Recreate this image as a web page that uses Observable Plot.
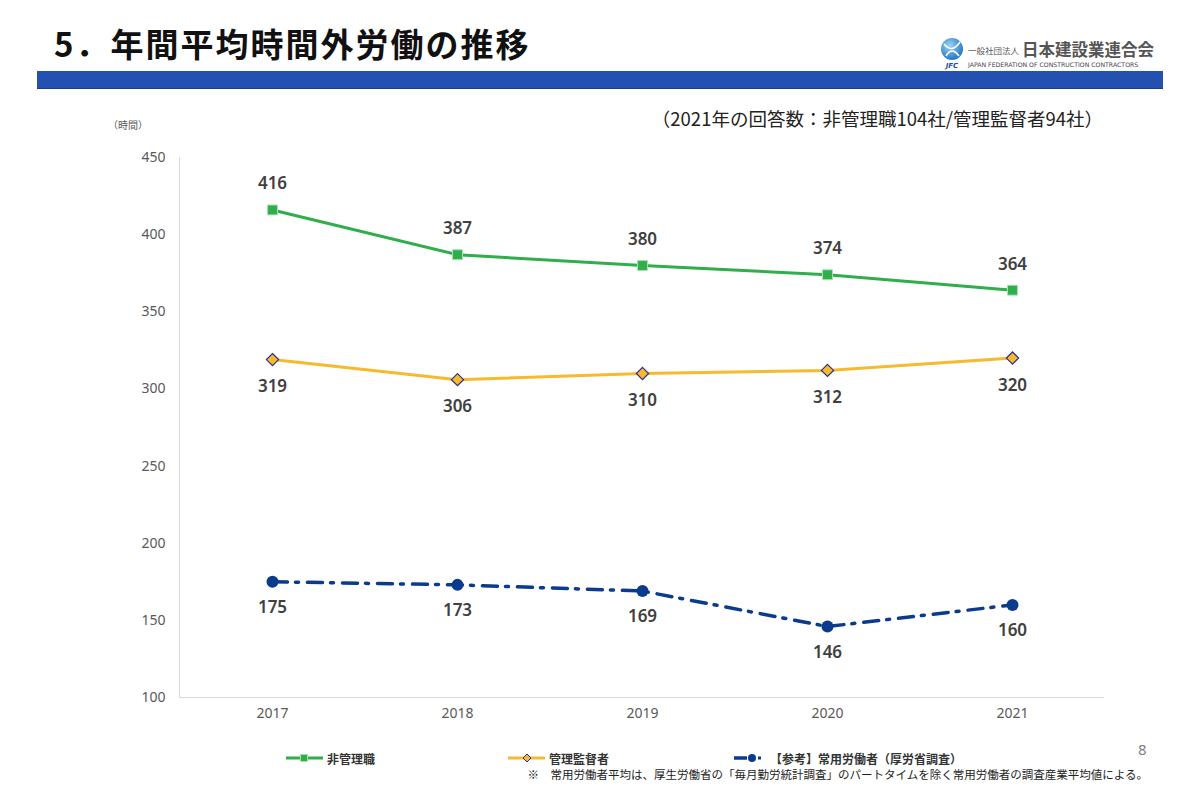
<!DOCTYPE html>
<html><head><meta charset="utf-8">
<script src="https://cdn.jsdelivr.net/npm/d3@7"></script>
<script src="https://cdn.jsdelivr.net/npm/@observablehq/plot@0.6"></script>
<style>
body{margin:0;width:1200px;height:798px;position:relative;background:#fff;overflow:hidden;font-family:"Noto Sans CJK JP","Noto Sans",sans-serif;}
.abs{position:absolute;white-space:nowrap;}
#chart{position:absolute;left:0;top:140px;}
.leg{position:absolute;top:750px;height:16px;display:flex;align-items:center;font-size:12px;font-weight:bold;color:#333;}
.leg svg{margin-right:3px;}
</style></head><body>
<div class="abs" style="left:54px;top:27px;font-size:33px;line-height:33px;font-weight:bold;color:#111;letter-spacing:2px;">5．年間平均時間外労働の推移</div>
<div class="abs" style="left:37px;top:71px;width:1126px;height:17px;background:#2350b1;border-bottom:1px solid #1a3f8f;"></div>
<div class="abs" style="left:932px;top:32px;width:226px;height:38px;background:#fff;"></div>
<svg class="abs" style="left:938px;top:36px;" width="30" height="34">
  <defs><radialGradient id="g" cx="40%" cy="35%" r="70%"><stop offset="0" stop-color="#9fd4f5"/><stop offset="1" stop-color="#1d6fc0"/></radialGradient></defs>
  <circle cx="14" cy="13" r="11" fill="url(#g)"/>
  <path d="M6 8 Q14 18 22 6 M8 20 Q14 10 21 20" stroke="#fff" stroke-width="1.5" fill="none"/>
  <text x="14" y="32" font-size="7" font-style="italic" font-weight="bold" fill="#1d4f9c" text-anchor="middle" font-family="DejaVu Sans">JFC</text>
</svg>
<div class="abs" style="left:968px;top:45px;font-size:8.5px;line-height:10px;color:#555;">一般社団法人</div>
<div class="abs" style="left:1022px;top:39px;font-size:16.5px;line-height:20px;color:#555;font-weight:bold;">日本建設業連合会</div>
<div class="abs" style="left:968px;top:61px;font-size:6.2px;line-height:8px;color:#444;font-family:'DejaVu Sans';">JAPAN FEDERATION OF CONSTRUCTION CONTRACTORS</div>
<div class="abs" style="right:97px;top:108px;font-size:18.5px;line-height:20px;color:#222;">（2021年の回答数：非管理職104社/管理監督者94社）</div>
<div class="abs" style="left:108px;top:119px;font-size:10px;line-height:12px;color:#595959;">（時間）</div>
<div id="chart"></div>
<div class="leg" style="left:286px;"><svg width="38" height="12"><line x1="0" y1="6" x2="37" y2="6" stroke="#2fae4b" stroke-width="3"/><rect x="14.5" y="2.5" width="7" height="7" fill="#2fae4b" stroke="#a8e0b4" stroke-width="1"/></svg>非管理職</div>
<div class="leg" style="left:508px;"><svg width="38" height="12"><line x1="0" y1="6" x2="37" y2="6" stroke="#f5ba2d" stroke-width="3"/><path d="M19 2 L23 6 L19 10 L15 6 Z" fill="#f5ba2d" stroke="#2b2f8f" stroke-width="1"/></svg>管理監督者</div>
<div class="leg" style="left:734px;"><svg width="33" height="12"><line x1="0" y1="6" x2="13" y2="6" stroke="#0b3b8c" stroke-width="3.5"/><circle cx="18" cy="6" r="4" fill="#0b3b8c"/><rect x="24" y="4.5" width="3" height="3" fill="#0b3b8c"/></svg>【参考】常用労働者（厚労省調査）</div>
<div class="abs" style="right:52px;top:767px;font-size:11.5px;line-height:14px;color:#222;">※　常用労働者平均は、厚生労働省の「毎月勤労統計調査」のパートタイムを除く常用労働者の調査産業平均値による。</div>
<div class="abs" style="left:1138px;top:741px;font-size:15px;line-height:17px;color:#7f7f7f;font-family:'Noto Sans';">8</div>
<script>
const years = ["2017", "2018", "2019", "2020", "2021"];
const nonManagerial = [416, 387, 380, 374, 364];
const managerial = [319, 306, 310, 312, 320];
const regularWorkers = [175, 173, 169, 146, 160];
const yTicks = [100, 150, 200, 250, 300, 350, 400, 450];

const green = "#2fae4b", yellow = "#f5ba2d", blue = "#0b3b8c";
const rows = years.map((year, i) => ({year, a: nonManagerial[i], b: managerial[i], c: regularWorkers[i]}));
const labelStyle = {fontSize: 17, fill: "#404040", fontWeight: 600, fontFamily: "Noto Sans"};

const chart = Plot.plot({
  width: 1200,
  height: 597,
  marginLeft: 179,
  marginRight: 96,
  marginTop: 17,
  marginBottom: 40,
  style: {fontFamily: "Noto Sans", background: "transparent"},
  x: {type: "point", domain: years, padding: 0.5},
  y: {domain: [100, 450]},
  marks: [
    Plot.frame({anchor: "left", stroke: "#d9d9d9"}),
    Plot.ruleY([100], {stroke: "#d9d9d9", strokeWidth: 1}),
    Plot.axisY({ticks: yTicks, tickSize: 0, tickPadding: 14, fontSize: 14, color: "#595959", label: null}),
    Plot.axisX({tickSize: 0, tickPadding: 11, fontSize: 14, color: "#595959", label: null}),
    Plot.line(rows, {x: "year", y: "a", stroke: green, strokeWidth: 3}),
    Plot.line(rows, {x: "year", y: "b", stroke: yellow, strokeWidth: 3}),
    Plot.line(rows, {x: "year", y: "c", stroke: blue, strokeWidth: 3.5, strokeDasharray: "15,8,3,9"}),
    Plot.dot(rows, {x: "year", y: "a", symbol: "square", r: 5.6, fill: green, stroke: "#a8e0b4", strokeWidth: 1}),
    Plot.dot(rows, {x: "year", y: "b", symbol: "diamond2", r: 5.5, fill: yellow, stroke: "#2b2f8f", strokeWidth: 1.2}),
    Plot.dot(rows, {x: "year", y: "c", r: 6, fill: blue, stroke: "none"}),
    Plot.text(rows, {x: "year", y: "a", text: d => String(d.a), dy: -26, ...labelStyle}),
    Plot.text(rows, {x: "year", y: "b", text: d => String(d.b), dy: 27, ...labelStyle}),
    Plot.text(rows, {x: "year", y: "c", text: d => String(d.c), dy: 26, ...labelStyle})
  ]
});
document.getElementById("chart").appendChild(chart);
</script>
</body></html>
